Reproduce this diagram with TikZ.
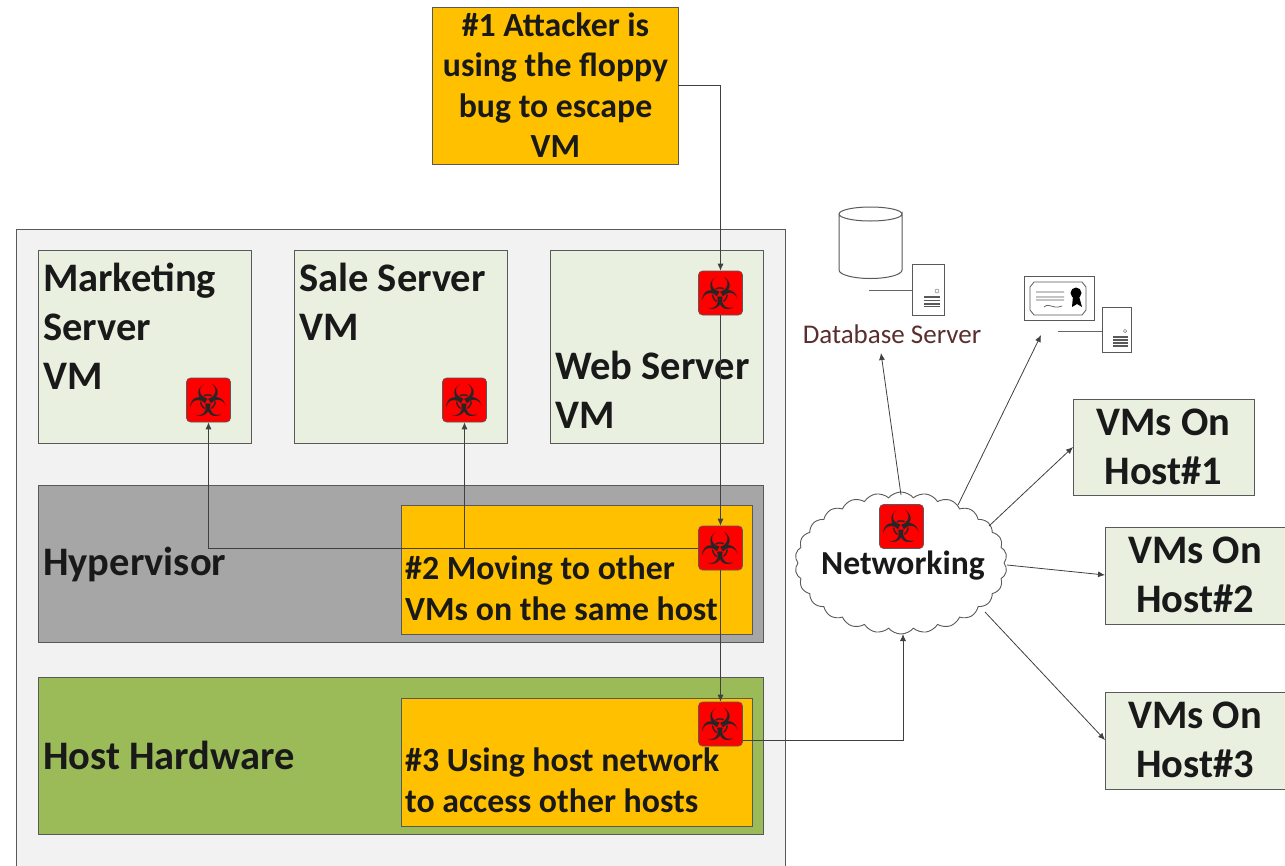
\documentclass[tikz,border=0pt]{standalone}
\usepackage{fontspec}
\setmainfont{Carlito}
\newfontfamily\symfont{DejaVu Sans}
\usetikzlibrary{shapes.symbols,arrows.meta,calc}
\definecolor{amber}{HTML}{FFC000}
\definecolor{pale}{HTML}{E9F0E0}
\definecolor{hyper}{HTML}{A6A6A6}
\definecolor{hw}{HTML}{9BBB59}
\definecolor{edge}{HTML}{595959}
\definecolor{dbtext}{HTML}{5A2E2E}
\tikzset{
 x=1pt,y=-1pt,
 pane/.style={draw=edge,line width=0.8pt,anchor=north west,inner sep=0pt},
 big/.style={font=\fontsize{40.5}{49}\selectfont\bfseries,text=black!90,align=left},
 mid/.style={font=\fontsize{33.8}{40.5}\selectfont\bfseries,text=black!90},
 hazard/.style={draw=edge,line width=0.6pt,fill=red,rounded corners=4pt,minimum width=44pt,minimum height=44pt,inner sep=0pt,font=\symfont\fontsize{44}{44}\selectfont,text=black!85},
 conn/.style={draw=black!75,line width=0.8pt,-{Latex[length=7pt,width=6pt]}},
 plain/.style={draw=black!60,line width=1pt},
 srv/.style={draw=black!65,line width=1pt,fill=white},
}
\begin{document}
\begin{tikzpicture}
\useasboundingbox (0,0) rectangle (1285,865);
% outer frame
\fill[white] (0,0) rectangle (1285,865);
\node[pane,draw=black!65,fill=black!5,minimum width=769pt,minimum height=640pt] (frame) at (15.5,228.5) {};
% attacker box
\node[pane,fill=amber,minimum width=246pt,minimum height=157pt] (attacker) at (431.5,6.5) {};
\node[mid,align=center] (attackertext) at (555.5,85) {\#1 Attacker is\\using the floppy\\bug to escape\\VM};
% VMs
\node[pane,fill=pale,minimum width=213pt,minimum height=193pt] (vma) at (37.5,249.5) {};
\node[pane,fill=pale,minimum width=213pt,minimum height=193pt] (vmb) at (293.5,249.5) {};
\node[pane,fill=pale,minimum width=213pt,minimum height=193pt] (vmc) at (549.5,249.5) {};
\node[big,anchor=north west,inner sep=0pt] (vmatext) at (43,263) {Marketing\\Server\\VM};
\node[big,anchor=north west,inner sep=0pt] (vmbtext) at (299,263) {Sale Server\\VM};
\node[big,anchor=north west,inner sep=0pt] (vmctext) at (555,351) {Web Server\\VM};
% layers
\node[pane,fill=hyper,minimum width=725pt,minimum height=157pt] (hyp) at (37.5,484.5) {};
\node[big,anchor=west,inner sep=0pt] (hyptext) at (43,564) {Hypervisor};
\node[pane,fill=amber,minimum width=351pt,minimum height=129pt] (mv) at (400.5,504.5) {};
\node[mid,align=left,anchor=north west,inner sep=0pt] (mvtext) at (405,556) {\#2 Moving to other\\VMs on the same host};
\node[pane,fill=hw,minimum width=725pt,minimum height=157pt] (hard) at (37.5,676.5) {};
\node[big,anchor=west,inner sep=0pt] (hardtext) at (43,755) {Host Hardware};
\node[pane,fill=amber,minimum width=351pt,minimum height=128pt] (use) at (400.5,697.5) {};
\node[mid,align=left,anchor=north west,inner sep=0pt] (usetext) at (405,748) {\#3 Using host network\\to access other hosts};
% cloud
\node[cloud,cloud puffs=26,cloud puff arc=100,aspect=1.45,draw=black!65,fill=white,line width=0.9pt,minimum width=212pt,minimum height=142pt,inner sep=0pt] (cloud) at (901,563) {};
\node[mid,font=\fontsize{33.6}{36}\selectfont\bfseries,inner sep=0pt] (cloudtext) at (903,566) {Networking};
% hazards
\node[hazard] (hzc) at (720.5,293) {☣};
\node[hazard] (hza) at (208.5,400) {☣};
\node[hazard] (hzb) at (464.5,400) {☣};
\node[hazard] (hzh) at (720.5,548) {☣};
\node[hazard] (hzw) at (720.5,724) {☣};
\node[hazard] (hzn) at (901.5,526.5) {☣};
% hosts
\node[pane,fill=pale,minimum width=181pt,minimum height=96pt] (ha) at (1072.5,398.5) {};
\node[big,align=center,inner sep=0pt] (hatext) at (1163.5,447) {VMs On\\Host\#1};
\node[pane,fill=pale,minimum width=180pt,minimum height=97pt] (hb) at (1104.5,526.5) {};
\node[big,align=center,inner sep=0pt] (hbtext) at (1195,575) {VMs On\\Host\#2};
\node[pane,fill=pale,minimum width=180pt,minimum height=97pt] (hc) at (1104.5,691.5) {};
\node[big,align=center,inner sep=0pt] (hctext) at (1195,740) {VMs On\\Host\#3};
% database icon
\draw[srv] (839,214) -- (839,270) arc[start angle=180,end angle=0,x radius=31.5,y radius=8.5] -- (902,214) arc[start angle=0,end angle=360,x radius=31.5,y radius=7];
\draw[plain] (869,290) -- (912,290);
\node[pane,srv,minimum width=32pt,minimum height=51pt] (dbsrv) at (911.5,263.5) {};
\draw[black!60] (937,291) circle (2pt);
\foreach \y in {297,300.5,304,306.5}{\draw[black!65,line width=1.2pt] (924,\y)--(940,\y);}
\node[text=dbtext,font=\fontsize{27}{30}\selectfont,inner sep=0pt] (dblabel) at (892,334) {Database Server};
% certificate icon
\node[pane,srv,minimum width=70pt,minimum height=44pt] (cert) at (1023.5,276) {};
\draw[black!65,line width=0.8pt] (1034,282) -- (1082,282) -- (1086,287) -- (1086,310) -- (1082,315) -- (1034,315) -- (1030,310) -- (1030,287) -- cycle;
\draw[black!65,line width=0.7pt] (1036,292) -- (1064,292) (1036,297) -- (1064,297) (1036,300) -- (1064,300) (1044,307) .. controls (1050,302) and (1052,310) .. (1062,306);
\fill[black] (1076,293) circle (5.5pt);
\fill[black] (1073,296) -- (1079,296) -- (1082,307) -- (1077,304) -- (1072,307) -- cycle;
\draw[plain] (1058,331) -- (1102,331);
\node[pane,srv,minimum width=29pt,minimum height=45pt] (certsrv) at (1101.5,306.5) {};
\draw[black!60] (1125,331) circle (1.7pt);
\foreach \y in {337,340,343,346}{\draw[black!65,line width=1.1pt] (1113,\y)--(1127.5,\y);}
\coordinate (certarrow) at (1041,335);
\coordinate (dbarrow) at (881,353);
\coordinate (cloudin) at (903,634);
% connectors
\draw[conn] (attacker.east |- 0,85) -| (hzc.north);
\draw[conn] (hzc.south) -- (hzh.north);
\draw[conn] (hzh.south) -- (hzw.north);
\draw[conn] (hzh.west) -| (hza.south);
\draw[conn] (hzb.south |- hzh.west) -- (hzb.south);
\draw[conn] (hzw.east |- 0,740) -| (cloudin);
\draw[conn] (901,495) -- (dbarrow);
\draw[conn] (958,505) -- (certarrow);
\draw[conn] (989,526) -- (1073,447);
\draw[conn] (1007,565) -- (1105,575);
\draw[conn] (985,612) -- (1105,740);
\end{tikzpicture}
\end{document}
